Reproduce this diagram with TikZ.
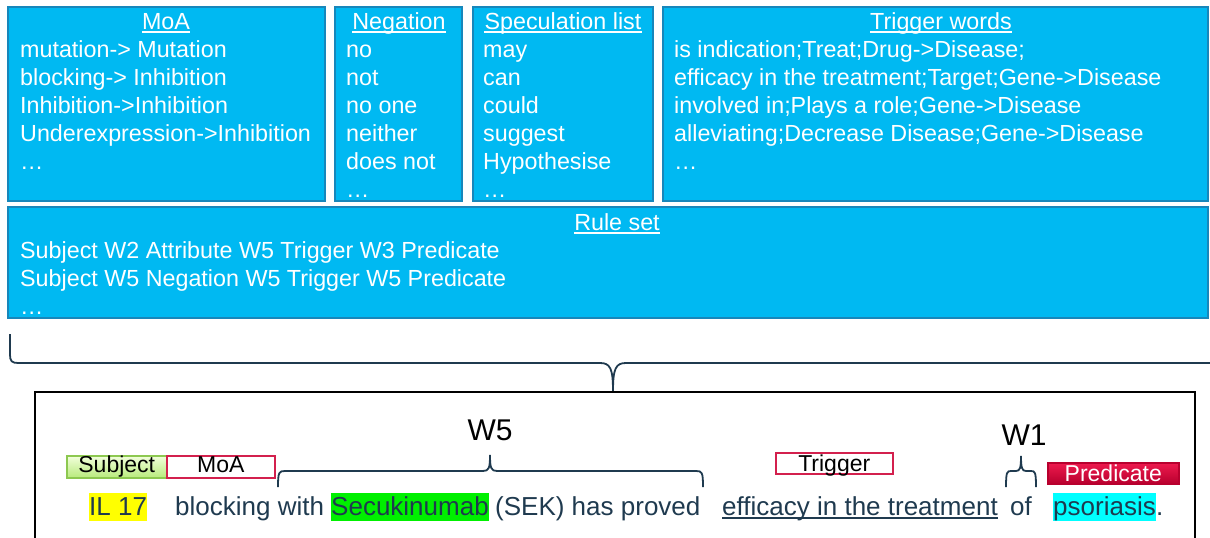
\documentclass[tikz,border=0pt]{standalone}
\usepackage{fontspec}
\setmainfont{Liberation Sans}
\usetikzlibrary{fit,shadows}
\definecolor{boxblue}{HTML}{00B9F2}
\definecolor{boxedge}{HTML}{1787BB}
\definecolor{navy}{HTML}{1F3A4F}
\definecolor{crimson}{HTML}{D3204D}
\definecolor{hlyellow}{HTML}{FFFF00}
\definecolor{hlgreen}{HTML}{00F000}
\definecolor{hlcyan}{HTML}{00FFFF}
\definecolor{limetop}{HTML}{F2FFDC}
\definecolor{limebot}{HTML}{B8EA7C}
\definecolor{limeedge}{HTML}{8DC850}
\definecolor{redtop}{HTML}{EE1A4E}
\definecolor{redbot}{HTML}{B8002E}
\newcommand\ulnode[3]{\draw[#2, line width=#3] ([yshift=-3pt]#1.base west) -- ([yshift=-3pt]#1.base east);}
\begin{document}
\begin{tikzpicture}[x=1pt,y=-1pt,
  panel/.style={draw=boxedge, fill=boxblue, line width=1.8pt, inner sep=0pt},
  ptitle/.style={text=white, anchor=base, inner sep=0pt, font=\fontsize{23.3}{28}\selectfont},
  pline/.style={text=white, anchor=base west, inner sep=0pt, font=\fontsize{23.3}{28}\selectfont},
  word/.style={text=navy, anchor=base west, inner sep=0pt, font=\fontsize{26}{30}\selectfont},
  hl/.style={word, text height=22pt, text depth=6pt},
  wlabel/.style={text=black, anchor=base, inner sep=0pt, font=\fontsize{30}{34}\selectfont},
  tag/.style={line width=1.5pt, inner sep=0pt, anchor=north west, font=\fontsize{23}{26}\selectfont, text=black, text height=16pt},
  bracket/.style={draw=navy, line width=1.8pt},
]
\useasboundingbox (0,0) rectangle (1210,538);
\clip (0,0) rectangle (1210,538);

% ---- panels
\node[panel, fit={(8,7) (325,201)}] (moa) {};
\node[panel, fit={(335,7) (462,201)}] (neg) {};
\node[panel, fit={(473,7) (653,201)}] (spec) {};
\node[panel, fit={(663,7) (1208,201)}] (trig) {};
\node[panel, fit={(8,207) (1208,318)}] (rules) {};

% titles
\node[ptitle] (tmoa) at (166,29) {MoA};
\node[ptitle] (tneg) at (399,29) {Negation};
\node[ptitle] (tspec) at (563,29) {Speculation list};
\node[ptitle] (ttrig) at (941,29) {Trigger words};
\node[ptitle] (trules) at (617,230) {Rule set};
\ulnode{tmoa}{white}{1.3pt}
\ulnode{tneg}{white}{1.3pt}
\ulnode{tspec}{white}{1.3pt}
\ulnode{ttrig}{white}{1.3pt}
\ulnode{trules}{white}{1.3pt}

% body lines
\foreach \t [count=\i from 0] in {mutation-> Mutation, blocking-> Inhibition, Inhibition->Inhibition, Underexpression->Inhibition, …}
  \node[pline] (moa-\i) at (20,57+28*\i) {\t};
\foreach \t [count=\i from 0] in {no, not, no one, neither, does not, …}
  \node[pline] (neg-\i) at (346,57+28*\i) {\t};
\foreach \t [count=\i from 0] in {may, can, could, suggest, Hypothesise, …}
  \node[pline] (spec-\i) at (483,57+28*\i) {\t};
\foreach \t [count=\i from 0] in {is indication;Treat;Drug->Disease;, efficacy in the treatment;Target;Gene->Disease, involved in;Plays a role;Gene->Disease, alleviating;Decrease Disease;Gene->Disease, …}
  \node[pline] (trig-\i) at (674,57+28*\i) {\t};
\foreach \t [count=\i from 0] in {Subject W2 Attribute W5 Trigger W3 Predicate, Subject W5 Negation W5 Trigger W5 Predicate, …}
  \node[pline] (rules-\i) at (20,258+28*\i) {\t};

% ---- big brace
\draw[bracket] (10,334) -- (10,355) .. controls (10,361) and (12,363) .. (18,363)
  -- (600,363) .. controls (610,363) and (613,368) .. (613,391)
  .. controls (613,368) and (616,363) .. (626,363) -- (1212,363);

% ---- example frame
\draw[black, line width=2pt] (35,545) -- (35,392) -- (1195,392) -- (1195,545);

% tags
\node[tag, draw=limeedge, top color=limetop, bottom color=limebot, minimum width=100pt, minimum height=22pt, text depth=5pt,
      drop shadow={opacity=0.25, shadow xshift=1.5pt, shadow yshift=-1.5pt}] (subj) at (66,455) {Subject};
\node[tag, draw=crimson, fill=white, minimum width=108pt, minimum height=22pt, text depth=5pt] (moatag) at (166,455) {MoA};
\node[tag, draw=crimson, fill=white, minimum width=117pt, minimum height=21pt, text depth=0pt] (trigtag) at (775,452) {Trigger};
\node[tag, draw=redbot, top color=redtop, bottom color=redbot, text=white, minimum width=131pt, minimum height=21pt, text depth=0pt,
      drop shadow={opacity=0.25, shadow xshift=1.5pt, shadow yshift=-1.5pt}] (predtag) at (1047,462) {Predicate};

% W labels and braces
\node[wlabel] (w5) at (490,440) {W5};
\node[wlabel] (w1) at (1024,445) {W1};
\draw[bracket] (278,487) .. controls (278,472) and (279,471) .. (285,471) -- (483,471)
  .. controls (489,471) and (490,468) .. (490,455)
  .. controls (490,468) and (491,471) .. (497,471) -- (696,471)
  .. controls (702,471) and (703,472) .. (703,487);
\draw[bracket] (1006,487) .. controls (1006,472) and (1007,471) .. (1011,471) -- (1016,471)
  .. controls (1020,471) and (1021,468) .. (1021,456)
  .. controls (1021,468) and (1022,471) .. (1026,471) -- (1031,471)
  .. controls (1035,471) and (1036,472) .. (1036,487);

% sentence
\node[hl, fill=hlyellow] (il) at (89,515) {IL 17};
\node[word] (s1) at (175,515) {blocking with};
\node[hl, fill=hlgreen] (sec) at (331,515) {Secukinumab};
\node[word] (s2) at (495,515) {(SEK) has proved};
\node[word] (eff) at (722,515) {efficacy in the treatment};
\ulnode{eff}{navy}{1.5pt}
\node[word] (of) at (1010,515) {of};
\node[hl, fill=hlcyan] (pso) at (1053,515) {psoriasis};
\node[word] (dot) at (pso.base east) {.};
\end{tikzpicture}
\end{document}
